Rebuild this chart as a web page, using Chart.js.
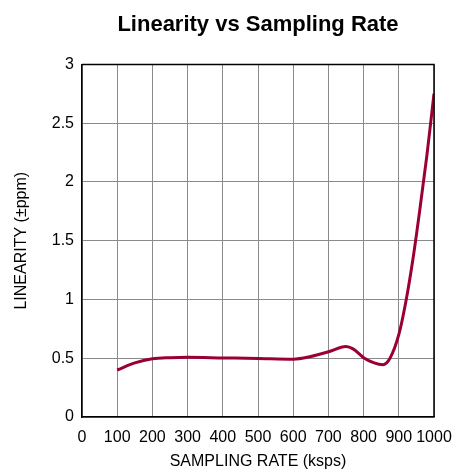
<!DOCTYPE html>
<html><head><meta charset="utf-8">
<script src="https://cdn.jsdelivr.net/npm/chart.js@4"></script>
<style>html,body{margin:0;padding:0;background:#fff}#wrap{width:452px;height:473px}</style>
</head><body><div id="wrap"><canvas id="c" width="452" height="473"></canvas></div>
<script>
const rateKsps = [100, 150, 200, 250, 300, 400, 500, 600, 650, 700, 750, 770, 800, 830, 855, 875, 900, 920, 940, 960, 980, 1000];
const linearityPpm = [0.40, 0.46, 0.495, 0.505, 0.508, 0.503, 0.498, 0.492, 0.515, 0.555, 0.60, 0.58, 0.505, 0.46, 0.445, 0.50, 0.70, 0.98, 1.34, 1.77, 2.23, 2.75];
const xTicks = [0,100,200,300,400,500,600,700,800,900,1000];
const yTicks = [0,0.5,1,1.5,2,2.5,3];
const font = "'Liberation Sans Narrow','Arial Narrow','Liberation Sans',Arial,sans-serif";
new Chart(document.getElementById('c'), {
  type: 'line',
  data: { datasets: [{
    data: rateKsps.map((x,i)=>({x, y: linearityPpm[i]})),
    borderColor: '#9b0032', borderWidth: 3, pointRadius: 0,
    cubicInterpolationMode: 'monotone', fill: false
  }]},
  options: {
    responsive: false, animation: false,
    layout: { padding: { left: 0, right: 18, top: 0, bottom: 0 } },
    plugins: {
      legend: { display: false }, tooltip: { enabled: false },
      title: { display: true, fullSize: false, text: 'Linearity vs Sampling Rate', color: '#000',
        font: { family: font, size: 22, weight: 'bold' }, padding: { top: 12, bottom: 26 } }
    },
    scales: {
      x: { type: 'linear', min: 0, max: 1000,
        afterBuildTicks: s => { s.ticks = xTicks.map(v=>({value:v})); },
        afterFit: s => { s.height = 56; s.paddingRight = 0; s.paddingLeft = 0; },
        grid: { color: '#8a8a8a', lineWidth: 1, drawTicks: false },
        border: { color: '#000', width: 1.5 },
        ticks: { color: '#000', padding: 11, maxRotation: 0, autoSkip: false, font: { family: font, size: 16 },
          callback: v => String(v) },
        title: { display: true, text: 'SAMPLING RATE (ksps)', color: '#000', font: { family: font, size: 16 }, padding: { top: 3, bottom: 2 } }
      },
      y: { min: 0, max: 3,
        afterBuildTicks: s => { s.ticks = yTicks.map(v=>({value:v})); },
        afterFit: s => { s.width = 82; s.paddingTop = 0; s.paddingBottom = 0; },
        grid: { color: '#8a8a8a', lineWidth: 1, drawTicks: false },
        border: { color: '#000', width: 1.5 },
        ticks: { color: '#000', padding: 8, font: { family: font, size: 16 }, callback: v => String(v) },
        title: { display: true, text: 'LINEARITY (±ppm)', color: '#000', font: { family: font, size: 16 }, padding: { top: 12, bottom: 4 } }
      }
    }
  },
  plugins: [{ id: 'rightTopBorder', afterDraw(chart) {
    const {ctx, chartArea: a} = chart;
    ctx.save(); ctx.strokeStyle = '#000'; ctx.lineWidth = 1.5;
    ctx.beginPath(); ctx.moveTo(a.left, a.top); ctx.lineTo(a.right, a.top); ctx.lineTo(a.right, a.bottom); ctx.stroke(); ctx.restore();
  }}]
});
</script></body></html>
